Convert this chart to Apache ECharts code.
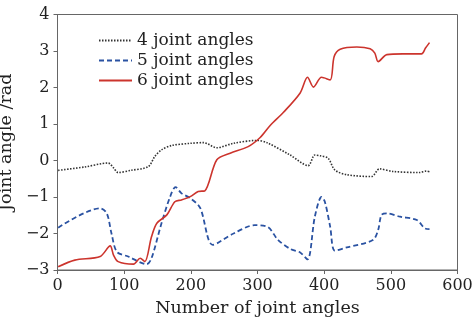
<!DOCTYPE html>
<html>
<head>
<meta charset="utf-8">
<script src="https://cdn.jsdelivr.net/npm/echarts@6/dist/echarts.min.js"></script>
<style>
  html, body { margin: 0; padding: 0; background: #fff; }
  #chart { width: 473px; height: 322px; }
</style>
</head>
<body>
<div id="chart"></div>
<script>
// values
const xTicks = [0, 100, 200, 300, 400, 500, 600]
const yTicks = [-3, -2, -1, 0, 1, 2, 3, 4]

const joint4X = [1, 40, 76, 84, 91, 110, 136, 146, 156, 171, 199, 219, 239, 264, 299, 314, 349, 376, 386, 394, 406, 416, 434, 471, 483, 503, 543, 553, 558]
const joint4Y = [-0.27, -0.18, -0.07, -0.2, -0.33, -0.27, -0.17, 0.11, 0.29, 0.41, 0.47, 0.49, 0.35, 0.47, 0.55, 0.49, 0.15, -0.14, 0.15, 0.13, 0.06, -0.26, -0.39, -0.44, -0.23, -0.3, -0.33, -0.29, -0.31]

const joint5X = [1, 64, 74, 81, 89, 106, 134, 141, 156, 169, 177, 186, 199, 214, 233, 264, 296, 316, 331, 349, 364, 375, 386, 396, 401, 409, 416, 434, 473, 481, 486, 494, 514, 539, 551, 558]
const joint5Y = [-1.84, -1.31, -1.45, -2.0, -2.5, -2.63, -2.84, -2.68, -1.72, -0.99, -0.73, -0.9, -1.03, -1.3, -2.31, -2.0, -1.77, -1.83, -2.18, -2.42, -2.52, -2.71, -1.54, -1.0, -1.13, -1.81, -2.47, -2.38, -2.18, -1.9, -1.49, -1.45, -1.54, -1.63, -1.86, -1.88]

const joint6X = [1, 26, 64, 79, 84, 91, 114, 124, 131, 141, 149, 164, 176, 186, 199, 211, 221, 239, 259, 286, 304, 319, 339, 364, 375, 384, 396, 409, 415, 424, 449, 469, 476, 481, 494, 518, 546, 552, 558]
const joint6Y = [-2.91, -2.73, -2.63, -2.34, -2.59, -2.77, -2.84, -2.68, -2.77, -2.09, -1.72, -1.49, -1.13, -1.08, -0.99, -0.85, -0.83, 0.02, 0.2, 0.38, 0.63, 0.96, 1.32, 1.85, 2.28, 2.01, 2.28, 2.21, 2.85, 3.05, 3.11, 3.06, 2.94, 2.71, 2.9, 2.92, 2.92, 3.08, 3.23]

const seriesNames = ['4 joint angles', '5 joint angles', '6 joint angles']

const zip = (xs, ys) => xs.map((x, i) => [x, ys[i]])
const minus = v => String(v).replace('-', '\u2212')

const font = 'DejaVu Serif'
const chart = echarts.init(document.getElementById('chart'))
chart.setOption({
  animation: false,
  grid: {
    left: 57.5,
    right: 15.5,
    top: 14.5,
    bottom: 52,
    outerBoundsMode: 'none',
    containLabel: false,
    show: true,
    borderColor: '#666',
    borderWidth: 1
  },
  legend: {
    orient: 'vertical',
    left: 98,
    top: 32,
    padding: 0,
    itemWidth: 33,
    itemHeight: 14,
    itemGap: 3,
    itemStyle: { opacity: 0 },
    textStyle: { fontFamily: font, fontSize: 17, color: '#222', lineHeight: 14 },
    data: seriesNames
  },
  xAxis: {
    type: 'value',
    min: xTicks[0],
    max: xTicks[xTicks.length - 1],
    interval: 100,
    name: 'Number of joint angles',
    nameLocation: 'middle',
    nameGap: 29,
    nameTextStyle: { fontFamily: font, fontSize: 17.5, color: '#222' },
    axisLine: { show: true, onZero: false, lineStyle: { color: '#666' } },
    axisTick: { show: true, length: 4, lineStyle: { color: '#666' } },
    axisLabel: { fontFamily: font, fontSize: 16, color: '#222', margin: 8 },
    splitLine: { show: false }
  },
  yAxis: {
    type: 'value',
    min: yTicks[0],
    max: yTicks[yTicks.length - 1],
    interval: 1,
    name: 'Joint angle /rad',
    nameLocation: 'middle',
    nameGap: 35,
    nameTextStyle: { fontFamily: font, fontSize: 17.5, color: '#222' },
    axisLine: { show: true, onZero: false, lineStyle: { color: '#666' } },
    axisTick: { show: true, length: 4, lineStyle: { color: '#666' } },
    axisLabel: { fontFamily: font, fontSize: 16, color: '#222', margin: 8, formatter: minus },
    splitLine: { show: false }
  },
  series: [
    {
      name: seriesNames[0],
      type: 'line',
      data: zip(joint4X, joint4Y),
      symbol: 'none',
      smooth: 0.3,
      lineStyle: { color: '#333', width: 1.6, type: [1.5, 1.5] },
      itemStyle: { color: '#333' }
    },
    {
      name: seriesNames[1],
      type: 'line',
      data: zip(joint5X, joint5Y),
      symbol: 'none',
      smooth: 0.3,
      lineStyle: { color: '#2a52a2', width: 1.8, type: [5, 3] },
      itemStyle: { color: '#2a52a2' }
    },
    {
      name: seriesNames[2],
      type: 'line',
      data: zip(joint6X, joint6Y),
      symbol: 'none',
      smooth: 0.3,
      lineStyle: { color: '#cc342d', width: 1.6 },
      itemStyle: { color: '#cc342d' }
    }
  ]
})
</script>
</body>
</html>
